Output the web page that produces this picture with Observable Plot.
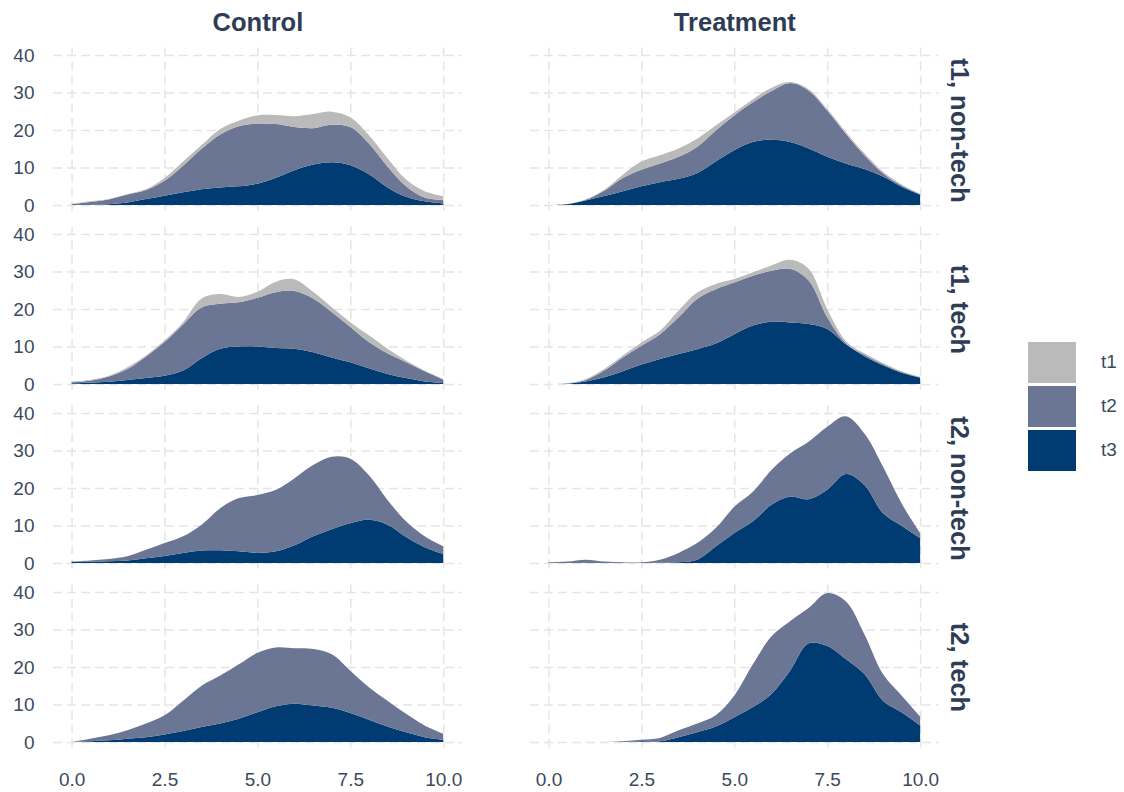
<!DOCTYPE html>
<html>
<head>
<meta charset="utf-8">
<script src="https://cdn.jsdelivr.net/npm/d3@7"></script>
<script src="https://cdn.jsdelivr.net/npm/@observablehq/plot@0.6"></script>
<style>
  html, body { margin: 0; padding: 0; background: #fff; }
  #wrap { position: relative; width: 1124px; height: 792px; font-family: "Liberation Sans", Arial, sans-serif; }
  #chart { position: absolute; left: 0; top: 0; }
  #legend { position: absolute; left: 1028px; top: 340px; }
  .key { display: flex; align-items: center; height: 44px; }
  .sw { width: 48px; height: 41px; box-sizing: border-box; }
  .lab { margin-left: 25px; font-size: 19px; color: #3b4a5c; }
</style>
</head>
<body>
<div id="wrap"><div id="chart"></div><div id="legend"></div></div>
<script>
// ---- data ----
const xGrid = [0,0.5,1,1.5,2,2.5,3,3.5,4,4.5,5,5.5,6,6.5,7,7.5,8,8.5,9,9.5,10];
const groups = ["Control", "Treatment"];
const facetRows = ["t1, non-tech", "t1, tech", "t2, non-tech", "t2, tech"];
const seriesNames = ["t1", "t2", "t3"];
const seriesColors = ["#bababa", "#6b7594", "#003b71"];
const xTicks = [0, 2.5, 5, 7.5, 10];
const yTicks = [0, 10, 20, 30, 40];

// Control, t1 non-tech
const control_t1NonTech_t3 = [0,0,0.2,0.7,1.6,2.5,3.4,4.2,4.7,5,5.7,7.3,9.3,10.8,11.4,10.6,8.2,4.7,2.2,1,0.4];
const control_t1NonTech_t2 = [0.2,0.8,1.3,2.1,2.4,4.0,7.1,10.8,14.1,16.0,16.0,14.3,11.5,9.7,10.0,10.2,8.2,5.6,2.8,1.0,0.9];
const control_t1NonTech_t1 = [0.1,0.2,0.1,0.1,0.2,0.7,1.1,1.0,1.5,1.5,2.2,2.4,2.9,3.8,3.5,2.6,2.2,2.2,1.8,1.7,1.1];
// Control, t1 tech
const control_t1Tech_t3 = [0.2,0.35,0.6,1.1,1.6,2.2,3.6,6.9,9.4,10,10,9.6,9.4,8.5,7.1,5.8,4.2,2.7,1.6,0.7,0.3];
const control_t1Tech_t2 = [0.3,0.55,1.4,2.9,5.7,9.0,12.3,13.5,12.0,11.8,13.0,14.9,15.4,14.3,12.1,9.4,7.0,5.5,4.2,2.7,0.9];
const control_t1Tech_t1 = [0.2,0.2,0.2,0.5,0.3,0.4,0.6,2.4,2.6,1.4,1.6,2.8,3.1,1.8,1.3,1.3,1.8,1.2,0.5,0.2,0.1];
// Control, t2 non-tech
const control_t2NonTech_t3 = [0.25,0.4,0.5,0.7,1.3,1.9,2.7,3.3,3.4,3.1,2.7,3.1,4.7,7.1,9,10.6,11.5,10.2,6.9,4.2,2.4];
const control_t2NonTech_t2 = [0.15,0.3,0.6,1.1,2.2,3.4,4.4,6.9,11.2,14.2,15.4,16.4,17.9,19.0,19.3,17.2,11.9,6.6,4.2,2.9,2.0];
// Control, t2 tech
const control_t2Tech_t3 = [0,0.2,0.45,0.9,1.3,2,2.9,4,4.9,6.2,7.9,9.5,10.2,9.7,9.1,7.7,5.9,4.1,2.6,1.3,0.6];
const control_t2Tech_t2 = [0,0.7,1.35,2.2,3.6,5.1,8.1,11.0,12.8,14.5,15.9,15.7,14.8,15.1,14.3,11.3,8.7,6.9,4.9,3.1,1.6];
// Treatment, t1 non-tech
const treatment_t1NonTech_t3 = [0,0.2,1.2,2.4,3.7,5,6.1,7,8.5,11.6,14.6,16.8,17.4,16.8,15.1,12.9,11.1,9.6,7.6,4.9,2.8];
const treatment_t1NonTech_t2 = [0,0,0.2,1.4,3.5,4.4,5.0,5.9,7.0,8.3,9.3,10.6,13.0,15.7,15.4,12.3,7.9,3.7,0.9,0.3,0.1];
const treatment_t1NonTech_t1 = [0,0,0.1,0.3,0.9,2.2,2.2,2.2,2.2,1.3,0.8,0.8,0.9,0.3,0.4,0.4,0.5,0.5,0.4,0.3,0.1];
// Treatment, t1 tech
const treatment_t1Tech_t3 = [0,0.1,0.7,1.8,3.4,5.2,6.7,8,9.3,10.8,13.3,15.6,16.6,16.4,16,14.7,10.6,7.4,5,3,1.7];
const treatment_t1Tech_t2 = [0,0.05,0.4,1.8,3.7,5.0,6.6,9.8,13.4,14.5,13.8,13.3,13.6,14.3,11.6,3.1,0.3,0.4,0.3,0.2,0.1];
const treatment_t1Tech_t1 = [0,0.05,0.2,0.4,0.5,0.9,0.9,1.8,1.7,1.4,0.9,0.9,1.4,2.4,3.1,2.2,0.6,0.4,0.3,0.2,0.1];
// Treatment, t2 non-tech
const treatment_t2NonTech_t3 = [0,0,0,0,0,0,0.1,0.2,0.9,4.4,8,11.1,15.5,17.7,17,19.5,23.7,20.8,13.3,9.9,6.6];
const treatment_t2NonTech_t2 = [0.2,0.4,0.9,0.4,0.2,0.2,0.8,2.5,4.4,4.9,7.0,7.9,9.3,11.5,15.3,16.8,15.4,13.7,12.4,6.0,1.4];
// Treatment, t2 tech
const treatment_t2Tech_t3 = [0,0,0,0,0,0.2,0.2,1.3,2.6,4.1,6.6,9.3,12.8,19,26.3,25.6,22.1,18.1,11,7.9,4.4];
const treatment_t2Tech_t2 = [0,0,0,0,0.2,0.4,0.9,1.8,2.3,3.0,5.8,11.4,15.4,13.2,9.4,14.1,15.4,10.6,7.1,4.5,2.4];

// ---- assemble the long table ----
const panels = [
  ["Control", facetRows[0], {t3: control_t1NonTech_t3, t2: control_t1NonTech_t2, t1: control_t1NonTech_t1}],
  ["Control", facetRows[1], {t3: control_t1Tech_t3, t2: control_t1Tech_t2, t1: control_t1Tech_t1}],
  ["Control", facetRows[2], {t3: control_t2NonTech_t3, t2: control_t2NonTech_t2}],
  ["Control", facetRows[3], {t3: control_t2Tech_t3, t2: control_t2Tech_t2}],
  ["Treatment", facetRows[0], {t3: treatment_t1NonTech_t3, t2: treatment_t1NonTech_t2, t1: treatment_t1NonTech_t1}],
  ["Treatment", facetRows[1], {t3: treatment_t1Tech_t3, t2: treatment_t1Tech_t2, t1: treatment_t1Tech_t1}],
  ["Treatment", facetRows[2], {t3: treatment_t2NonTech_t3, t2: treatment_t2NonTech_t2}],
  ["Treatment", facetRows[3], {t3: treatment_t2Tech_t3, t2: treatment_t2Tech_t2}]
];
const rows = [];
for (const [group, row, ser] of panels) {
  for (const s of ["t3", "t2", "t1"]) {
    if (!ser[s]) continue;
    ser[s].forEach((v, i) => rows.push({group, row, series: s, x: xGrid[i], y: v}));
  }
}
const colLabels = groups.map(g => ({group: g, row: facetRows[0]}));
const rowLabels = facetRows.map(r => ({group: groups[1], row: r}));

const textColor = "#3b4a5c";
const stripColor = "#2e3d55";
const gridColor = "#e5e5e5";

const chart = Plot.plot({
  width: 985,
  height: 792,
  marginLeft: 53,
  marginRight: 985 - 938.7,
  marginTop: 47.5,
  marginBottom: 42.5,
  style: {fontFamily: "'Liberation Sans', Arial, sans-serif", background: "#fff"},
  fx: {domain: groups, paddingInner: 0.1428, paddingOuter: 0, round: false, axis: null},
  fy: {domain: facetRows, paddingInner: 0.0782, paddingOuter: 0, round: false, axis: null},
  x: {domain: [-0.5, 10.5], label: null},
  y: {domain: [-2, 42], label: null},
  color: {domain: seriesNames, range: seriesColors},
  marks: [
    Plot.gridX({ticks: xTicks, stroke: gridColor, strokeOpacity: 1, strokeWidth: 1.5, strokeDasharray: "9,5"}),
    Plot.gridY({ticks: yTicks, stroke: gridColor, strokeOpacity: 1, strokeWidth: 1.5, strokeDasharray: "9,5"}),
    Plot.areaY(rows, Plot.stackY({
      x: "x", y: "y", z: "series", fill: "series",
      fx: "group", fy: "row",
      order: ["t3", "t2", "t1"],
      curve: "catmull-rom"
    })),
    Plot.axisX({ticks: xTicks, tickFormat: d3.format(".1f"), tickSize: 0, tickPadding: 22,
      fontSize: 19, fill: textColor, label: null}),
    Plot.axisY({ticks: yTicks, tickSize: 0, tickPadding: 19, fontSize: 19, fill: textColor, label: null}),
    Plot.text(colLabels, {fx: "group", fy: "row", text: "group", frameAnchor: "top",
      dy: -25, lineAnchor: "middle", fontSize: 25.5, fontWeight: "bold", fill: stripColor}),
    Plot.text(rowLabels, {fx: "group", fy: "row", text: "row", frameAnchor: "right",
      dx: 20, rotate: 90, textAnchor: "middle", lineAnchor: "middle", fontSize: 25.5, fontWeight: "bold", fill: stripColor})
  ]
});
document.getElementById("chart").appendChild(chart);

// legend (series order as in the reference)
const legend = document.getElementById("legend");
seriesNames.forEach((s, i) => {
  const k = document.createElement("div");
  k.className = "key";
  k.innerHTML = `<div class="sw" style="background:${seriesColors[i]}"></div><div class="lab">${s}</div>`;
  legend.appendChild(k);
});
</script>
</body>
</html>
